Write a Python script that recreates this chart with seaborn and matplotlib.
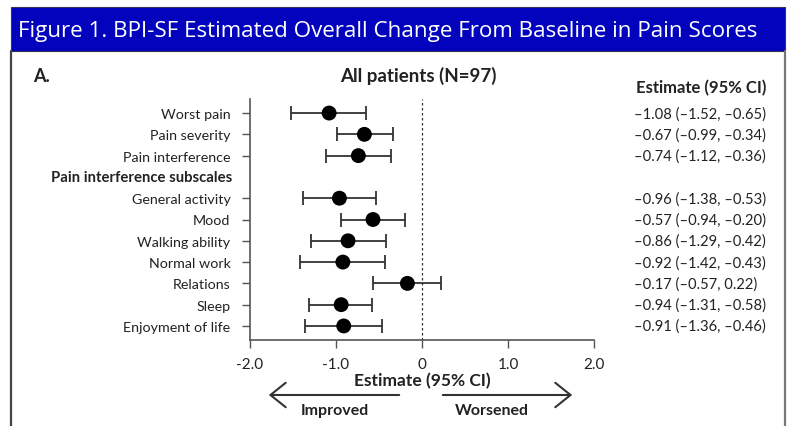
import numpy as np
import pandas as pd
import matplotlib
matplotlib.use('Agg')
import matplotlib.pyplot as plt
from matplotlib.patches import Rectangle, FancyArrowPatch
from matplotlib.lines import Line2D
import seaborn as sns

# data
measures = ['Worst pain', 'Pain severity', 'Pain interference',
            'General activity', 'Mood', 'Walking ability', 'Normal work',
            'Relations', 'Sleep', 'Enjoyment of life']
est = [-1.08, -0.67, -0.74, -0.96, -0.57, -0.86, -0.92, -0.17, -0.94, -0.91]
lo = [-1.52, -0.99, -1.12, -1.38, -0.94, -1.29, -1.42, -0.57, -1.31, -1.36]
hi = [-0.65, -0.34, -0.36, -0.53, -0.20, -0.42, -0.43, 0.22, -0.58, -0.46]
header = 'Pain interference subscales'
xticks = [-2, -1, 0, 1, 2]
xticklabels = ['-2.0', '-1.0', '0', '1.0', '2.0']

# header row sits after the first three measures
pos = [i if i < 3 else i + 1 for i in range(len(measures))]
df = pd.DataFrame({'measure': measures, 'est': est, 'lo': lo, 'hi': hi, 'pos': pos})

sns.set_theme(style='white')
plt.rcParams['font.family'] = ['Lato', 'DejaVu Sans']

W, H = 802, 427
fig = plt.figure(figsize=(W / 100, H / 100), dpi=100)

def fx(px):
    return px / W

def fy(py):
    return 1 - py / H

# blue title bar + panel frame
fig.patches.append(Rectangle((fx(11), fy(52)), fx(785) - fx(11), fy(8) - fy(52),
                             transform=fig.transFigure, facecolor='#0303BE',
                             edgecolor='#333355', lw=0.8, zorder=0))
fig.lines.append(Line2D([fx(11), fx(11)], [fy(52), 0], transform=fig.transFigure,
                        color='#444444', lw=1.6))
fig.lines.append(Line2D([fx(785), fx(785)], [fy(52), 0], transform=fig.transFigure,
                        color='#777777', lw=1.6))
fig.text(fx(18), fy(31), 'Figure 1. BPI-SF Estimated Overall Change From Baseline in Pain Scores',
         color='white', fontsize=16.1, family=['Open Sans', 'DejaVu Sans'],
         ha='left', va='center')

ax = fig.add_axes([fx(250), fy(341), fx(594) - fx(250), fy(100) - fy(341)])

ax.errorbar(df['est'], df['pos'], xerr=[df['est'] - df['lo'], df['hi'] - df['est']],
            fmt='none', ecolor='#333333', elinewidth=1.3, capsize=5, capthick=1.3, zorder=2)
sns.scatterplot(data=df, x='est', y='pos', s=115, color='black', edgecolor='none',
                ax=ax, zorder=3, legend=False)
ax.axvline(0, color='#333333', lw=0.9, ls=(0, (2, 2)), zorder=1)

ax.set_xlim(-2, 2)
ax.set_ylim(10.66, -0.66)
ax.set_xticks(xticks)
ax.set_xticklabels(xticklabels, fontsize=11, color='#222222')
ax.set_yticks(df['pos'])
ax.set_yticklabels(df['measure'], fontsize=10.3, color='#222222')
ax.tick_params(axis='both', direction='out', length=6, width=1, color='#555555',
               pad=8, bottom=True, left=True)
ax.tick_params(axis='x', pad=6)
for s in ['top', 'right']:
    ax.spines[s].set_visible(False)
for s in ['left', 'bottom']:
    ax.spines[s].set_color('#555555')
    ax.spines[s].set_linewidth(1.2)
ax.set_xlabel('')
ax.set_ylabel('')

# subscale header, bold, no tick
ax.text(-0.0525, 3, header, transform=ax.get_yaxis_transform(), ha='right', va='center',
        fontsize=10.7, fontweight='bold', color='#222222')

# estimate column
fig.text(fx(636), fy(88), 'Estimate (95% CI)', fontsize=12, fontweight='bold',
         color='#222222', ha='left', va='center')
for _, r in df.iterrows():
    s = '{:.2f} ({:.2f}, {:.2f})'.format(r['est'], r['lo'], r['hi']).replace('-', '\u2013')
    ax.text((634 - 250) / (594 - 250), r['pos'], s,
            transform=ax.get_yaxis_transform(), ha='left', va='center',
            fontsize=10.6, color='#222222')

fig.text(fx(33), fy(77), 'A.', fontsize=13, fontweight='bold', color='#222222', va='center')
fig.text(fx(418), fy(76), 'All patients (N=97)', fontsize=13.5, fontweight='bold',
         color='#222222', ha='center', va='center')
fig.text(fx(422), fy(381), 'Estimate (95% CI)', fontsize=12.5, fontweight='bold',
         color='#222222', ha='center', va='center')

# improved / worsened arrows
for x0, x1 in [(402, 266), (440, 575)]:
    fig.patches.append(FancyArrowPatch((fx(x0), fy(396)), (fx(x1), fy(396)),
                                       transform=fig.transFigure,
                                       arrowstyle='->,head_length=5,head_width=4',
                                       color='#333333', lw=1.5, mutation_scale=2.2))
fig.text(fx(335), fy(411), 'Improved', fontsize=11.5, fontweight='bold', color='#222222',
         ha='center', va='center')
fig.text(fx(492), fy(411), 'Worsened', fontsize=11.5, fontweight='bold', color='#222222',
         ha='center', va='center')

fig.savefig('out.png', dpi=100, facecolor='white')
